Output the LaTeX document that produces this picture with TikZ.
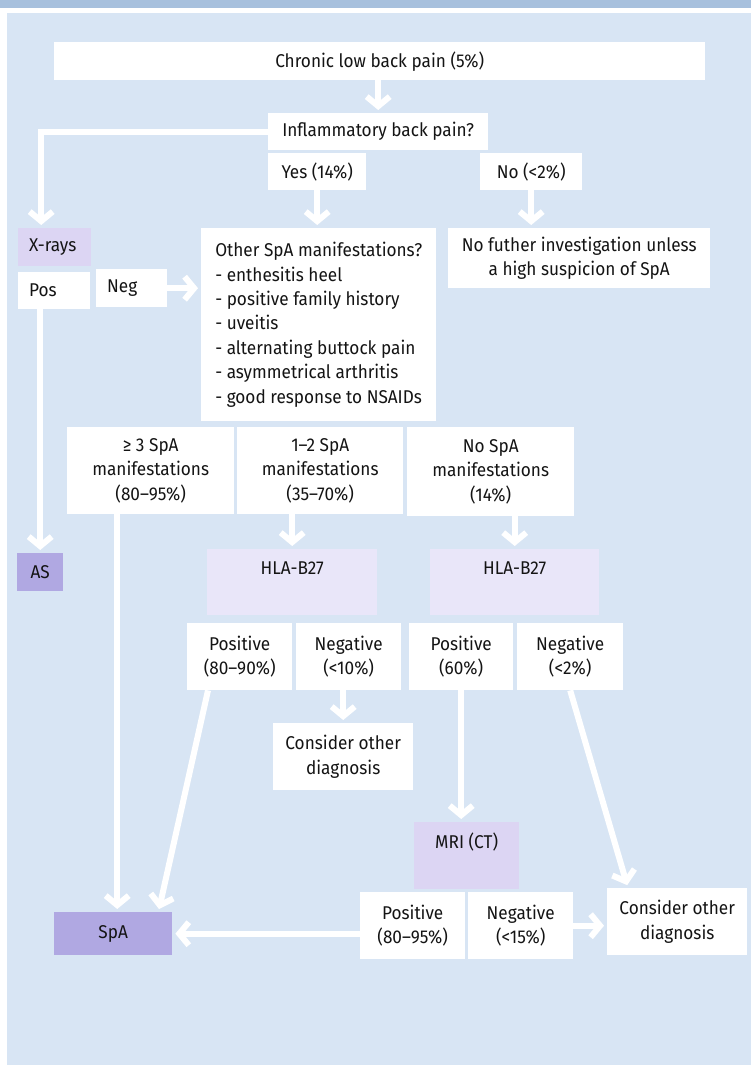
\documentclass[tikz,border=0pt]{standalone}
\usepackage{fontspec}
\setmainfont[FakeStretch=0.93]{Fira Sans}
\usepackage{tikz}
\usetikzlibrary{arrows.meta,positioning,calc}
\definecolor{panel}{HTML}{D8E5F4}
\definecolor{band}{HTML}{A7C0DD}
\definecolor{xraycol}{HTML}{DCD5F3}
\definecolor{hlacol}{HTML}{E9E6F9}
\definecolor{diagcol}{HTML}{B0A8E2}

\begin{document}
\begin{tikzpicture}[x=1pt, y=-1pt,
  box/.style={fill=white, anchor=north west, align=center, inner sep=0pt, text=black!92,
              font=\fontsize{18.5}{24.4}\selectfont},
  lbox/.style={box, align=left, inner xsep=11pt},
  xbox/.style={box, fill=xraycol},
  hbox/.style={box, fill=hlacol, text height=13pt, text depth=28pt},
  dbox/.style={box, fill=diagcol},
  arr/.style={white, line width=6pt, shorten >=3pt, -{Straight Barb[length=9.5pt, width=23pt]}}]
\useasboundingbox (0,0) rectangle (751,1065);
\fill[white] (0,0) rectangle (751,1065);
\fill[band] (0,0) rectangle (751,8);
\fill[panel] (7,13) rectangle (751,1065);
% top of the chart
\node[box, minimum width=651pt, minimum height=38pt] (chronic) at (54,42) {Chronic low back pain (5\%)};
\node[box, minimum width=220pt, minimum height=37pt] (infl) at (268,113) {Inflammatory back pain?};
\node[box, minimum width=98pt, minimum height=37pt] (yes) at (268,153) {Yes (14\%)};
\node[box, minimum width=102pt, minimum height=37pt] (no) at (480,153) {No (<2\%)};
\node[lbox, fill=xraycol, minimum width=73pt, minimum height=38pt, text width=51pt] (xray) at (18,228) {X-rays};
\node[lbox, minimum width=72pt, minimum height=37pt, text width=50pt] (pos) at (18,272) {Pos};
\node[lbox, minimum width=71pt, minimum height=38pt, text width=49pt] (neg) at (96,269) {Neg};
\node[box, align=left, minimum width=235pt, minimum height=193pt] (other) at (201,228)
  {Other SpA manifestations?\\- enthesitis heel\\- positive family history\\- uveitis\\
   - alternating buttock pain\\- asymmetrical arthritis\\- good response to NSAIDs};
\node[box, minimum width=262pt, minimum height=60pt] (nofurther) at (448,228)
  {No futher investigation unless\\a high suspicion of SpA};
\node[dbox, minimum width=46pt, minimum height=38pt] (as) at (17,553) {AS};
% number of manifestations
\node[box, minimum width=167pt, minimum height=87pt] (b3) at (67,427) {≥ 3 SpA\\manifestations\\(80--95\%)};
\node[box, minimum width=166pt, minimum height=87pt] (b12) at (237,427) {1--2 SpA\\manifestations\\(35--70\%)};
\node[box, minimum width=167pt, minimum height=89pt] (b0) at (407,427) {No SpA\\manifestations\\(14\%)};
\node[hbox, minimum width=170pt, minimum height=66pt] (hla1) at (207,549) {HLA-B27};
\node[hbox, minimum width=169pt, minimum height=66pt] (hla2) at (430,549) {HLA-B27};
\node[box, minimum width=105pt, minimum height=67pt] (pos1) at (187,623) {Positive\\(80--90\%)};
\node[box, minimum width=105pt, minimum height=67pt] (neg1) at (296,623) {Negative\\(<10\%)};
\node[box, minimum width=104pt, minimum height=67pt] (pos2) at (409,623) {Positive\\(60\%)};
\node[box, minimum width=106pt, minimum height=67pt] (neg2) at (517,623) {Negative\\(<2\%)};
\node[box, minimum width=140pt, minimum height=67pt] (cons1) at (273,723) {Consider other\\diagnosis};
% imaging
\node[hbox, fill=xraycol, minimum width=105pt, minimum height=67pt] (mri) at (414,822) {MRI (CT)};
\node[box, minimum width=105pt, minimum height=67pt] (pos3) at (360,892) {Positive\\(80--95\%)};
\node[box, minimum width=105pt, minimum height=67pt] (neg3) at (468,892) {Negative\\(<15\%)};
\node[box, minimum width=140pt, minimum height=67pt] (cons2) at (607,888) {Consider other\\diagnosis};
\node[dbox, minimum width=118pt, minimum height=43pt] (spa) at (54,912) {SpA};
% arrows
\draw[arr] (infl.north |- chronic.south) -- (infl.north);
\draw[arr] (infl.west) -| ($(xray.north)+(-13.5,0)$);
\draw[arr] (yes) -- (yes |- other.north);
\draw[arr] (no) -- (no |- nofurther.north);
\draw[arr] (neg) -- (neg -| other.west);
\draw[arr] (as.north |- pos.south) -- (as.north);
\draw[arr] ($(spa.north |- b3.south)+(4,0)$) -- ($(spa.north)+(4,0)$);
\draw[arr] (hla1.north |- b12.south) -- (hla1.north);
\draw[arr] (hla2.north |- b0.south) -- (hla2.north);
\draw[arr] ($(pos1.south west)+(21,0)$) -- ($(spa.north east)+(-14,0)$);
\draw[arr] (cons1.north |- neg1.south) -- (cons1.north);
\draw[arr] (pos2) -- (pos2 |- mri.north);
\draw[arr] (neg2.south) -- ($(cons2.north west)+(21,0)$);
\draw[arr] (pos3.west |- spa.east) -- (spa.east);
\draw[arr] (neg3) -- (neg3 -| cons2.west);
\end{tikzpicture}
\end{document}
